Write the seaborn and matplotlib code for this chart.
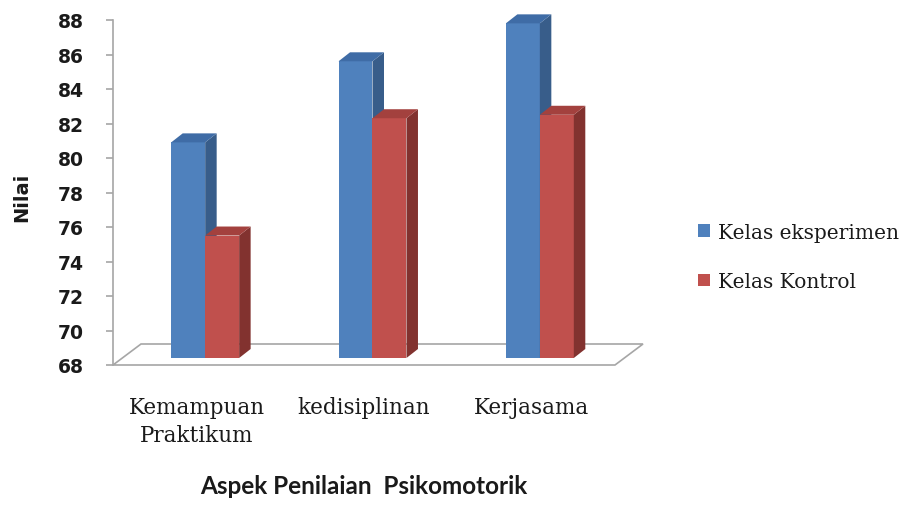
import numpy as np
import pandas as pd
import matplotlib
matplotlib.use("Agg")
import matplotlib.pyplot as plt
import seaborn as sns
from matplotlib.patches import Polygon, Rectangle
from matplotlib.transforms import IdentityTransform

# ---- data ----
categories = ["Kemampuan\nPraktikum", "kedisiplinan", "Kerjasama"]
series_names = ["Kelas eksperimen", "Kelas Kontrol"]
eksperimen = [80.5, 85.2, 87.4]
kontrol = [75.1, 81.9, 82.1]
y_ticks = [68, 70, 72, 74, 76, 78, 80, 82, 84, 86, 88]
x_title = "Aspek Penilaian  Psikomotorik"
y_title = "Nilai"

df = pd.DataFrame({
    "Aspek": categories * 2,
    "Kelas": [series_names[0]] * len(categories) + [series_names[1]] * len(categories),
    "Nilai": eksperimen + kontrol,
})

front_cols = ["#4F81BD", "#C0504D"]
top_cols = ["#3F6CA6", "#A3413E"]
side_cols = ["#385D8A", "#82322F"]

sns.set_theme(style="white")
plt.rcParams["font.family"] = ["DejaVu Sans"]

W, H = 912, 506
fig = plt.figure(figsize=(W / 100, H / 100), dpi=100)
ax = fig.add_axes([113 / W, 1 - 366 / H, 502 / W, 345 / H])

sns.barplot(data=df, x="Aspek", y="Nilai", hue="Kelas", palette=front_cols,
            width=0.406, saturation=1, edgecolor="none", linewidth=0,
            errorbar=None, ax=ax)

ymin, ymax = y_ticks[0], y_ticks[-1]
ax.set_ylim(ymin, ymax)
ax.set_xlim(-0.5, len(categories) - 0.5)
ax.set_yticks(y_ticks)

bars = [p for p in ax.patches if isinstance(p, Rectangle) and p.get_height() > 0]

# ---- 3D look ----
fig.canvas.draw()
shift = np.array([8.5, 7.0])     # bars sit a bit behind the front plane (px)
depth = np.array([11.5, 9.0])    # depth of each bar (px)
floor_depth = np.array([28.0, 21.0])

# floor
fl = ax.transAxes.transform([(0, 0), (1, 0)])
floor_pts = [fl[0], fl[1], fl[1] + floor_depth, fl[0] + floor_depth]
floor = Polygon(floor_pts, closed=True, facecolor="white", edgecolor="#A6A6A6",
                linewidth=1.2, transform=IdentityTransform(), zorder=1, clip_on=False)
ax.add_artist(floor)

n = len(categories)
for i, p in enumerate(bars):
    k = i // n  # hue index
    top_val = p.get_y() + p.get_height()
    p.set_visible(False)
    (x0, y0), (x1, y1) = ax.transData.transform([(p.get_x(), ymin),
                                                  (p.get_x() + p.get_width(), top_val)])
    x0, x1 = x0 + shift[0], x1 + shift[0]
    y0, y1 = y0 + shift[1], y1 + shift[1]
    z = 2 + k * 0.5
    front = Polygon([(x0, y0), (x1, y0), (x1, y1), (x0, y1)], closed=True,
                    facecolor=front_cols[k], edgecolor="none",
                    transform=IdentityTransform(), zorder=z, clip_on=False)
    side = Polygon([(x1, y0), (x1 + depth[0], y0 + depth[1]),
                    (x1 + depth[0], y1 + depth[1]), (x1, y1)], closed=True,
                   facecolor=side_cols[k], edgecolor="none",
                   transform=IdentityTransform(), zorder=z + 0.1, clip_on=False)
    top = Polygon([(x0, y1), (x1, y1), (x1 + depth[0], y1 + depth[1]),
                   (x0 + depth[0], y1 + depth[1])], closed=True,
                  facecolor=top_cols[k], edgecolor="none",
                  transform=IdentityTransform(), zorder=z + 0.1, clip_on=False)
    for poly in (front, side, top):
        ax.add_artist(poly)

# ---- axes styling ----
for s in ["top", "right", "bottom"]:
    ax.spines[s].set_visible(False)
ax.spines["left"].set_color("#A6A6A6")
ax.spines["left"].set_linewidth(1.2)
ax.tick_params(axis="y", left=True, length=5, width=1.2, color="#A6A6A6",
               pad=16, labelsize=13.5, labelcolor="#1A1A1A")
for lab in ax.get_yticklabels():
    lab.set_fontweight("bold")
ax.tick_params(axis="x", bottom=False, length=0, pad=22, labelcolor="#1A1A1A")
for lab in ax.get_xticklabels():
    lab.set_fontfamily("DejaVu Serif")
    lab.set_fontsize(15.5)
    lab.set_linespacing(1.4)

ax.set_ylabel(y_title, fontsize=14, fontweight="bold", color="#1A1A1A")
ax.yaxis.set_label_coords(-0.162, 0.49)
ax.set_xlabel(x_title, fontsize=17.5, fontweight="bold", family="Lato", color="#1A1A1A")
ax.xaxis.set_label_coords(0.5, -0.315)

handles, labels = ax.get_legend_handles_labels()
ax.legend(handles, labels, loc="center left", bbox_to_anchor=(698 / W, 1 - 258 / H),
          bbox_transform=fig.transFigure, frameon=False, borderpad=0,
          borderaxespad=0, handlelength=0.6, handleheight=0.6, handletextpad=0.4,
          labelspacing=1.5, prop={"family": "DejaVu Serif", "size": 14.5},
          labelcolor="#1A1A1A")

fig.savefig("out.png", dpi=100)
